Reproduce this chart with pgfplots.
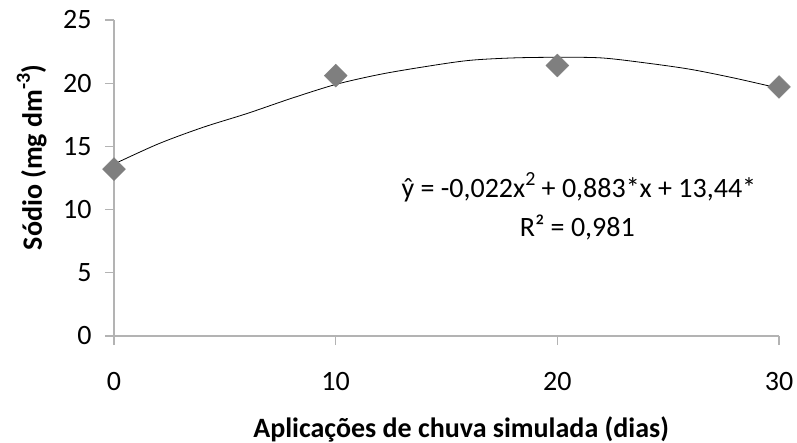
\documentclass[border=0pt]{standalone}
\usepackage{fontspec}
\setmainfont{Carlito}
\usepackage{pgfplots}
\pgfplotsset{compat=1.18}

\definecolor{axisgray}{HTML}{B3B3B3}
\definecolor{markgray}{HTML}{7F7F7F}

\newcommand{\bigfont}{\fontsize{28bp}{34bp}\selectfont}
\newcommand{\supr}[1]{\raisebox{12bp}{\fontsize{20bp}{20bp}\selectfont #1}}

\begin{document}
\begin{tikzpicture}
\useasboundingbox (-114bp,-107bp) rectangle (683bp,336bp);
\begin{axis}[
  at={(0,0)}, anchor=south west,
  scale only axis, width=665bp, height=316bp,
  xmin=0, xmax=30, ymin=0, ymax=25,
  xtick={0,10,20,30}, ytick={0,5,10,15,20,25},
  axis lines*=left,
  axis line style={color=axisgray, line width=1.3bp, -},
  tick align=outside,
  major tick length=9bp,
  tick style={color=axisgray, line width=1.3bp},
  tick label style={font=\bigfont, black},
  xticklabel style={yshift=-24bp},
  yticklabel style={xshift=-10bp},
  /pgf/number format/assume math mode=true,
  every axis x label/.style={at={(rel axis cs:0.522,0)}, yshift=-101bp, anchor=base},
  every axis y label/.style={at={(rel axis cs:0,0.565)}, xshift=-72bp, rotate=90, anchor=base},
  xlabel={\bigfont\bfseries Aplicações de chuva simulada (dias)},
  ylabel={\bigfont\bfseries Sódio (mg dm\supr{-3})},
  clip=false,
]
% observed means
\addplot[only marks, mark=square*, mark size=8.1bp,
  mark options={rotate=45, fill=markgray, draw=markgray}]
  coordinates {(0,13.2) (10,20.6) (20,21.4) (30,19.7)};
% fitted quadratic trend
\addplot[black, line width=0.8bp, no marks, smooth] coordinates {
  (0,13.6) (2,15.2) (4,16.5) (6,17.6) (8,18.8) (10,19.9) (12,20.7)
  (14,21.3) (16,21.8) (18,22.0) (20,22.05) (22,22.0) (24,21.6)
  (26,21.1) (28,20.4) (30,19.6)};
\node[anchor=base, font=\bigfont] at (axis cs:20.97,10.92)
  {ŷ = -0,022x\supr{2} + 0,883*x + 13,44*};
\node[anchor=base, font=\bigfont] at (axis cs:20.9,7.91) {R² = 0,981};
\end{axis}
\end{tikzpicture}
\end{document}
